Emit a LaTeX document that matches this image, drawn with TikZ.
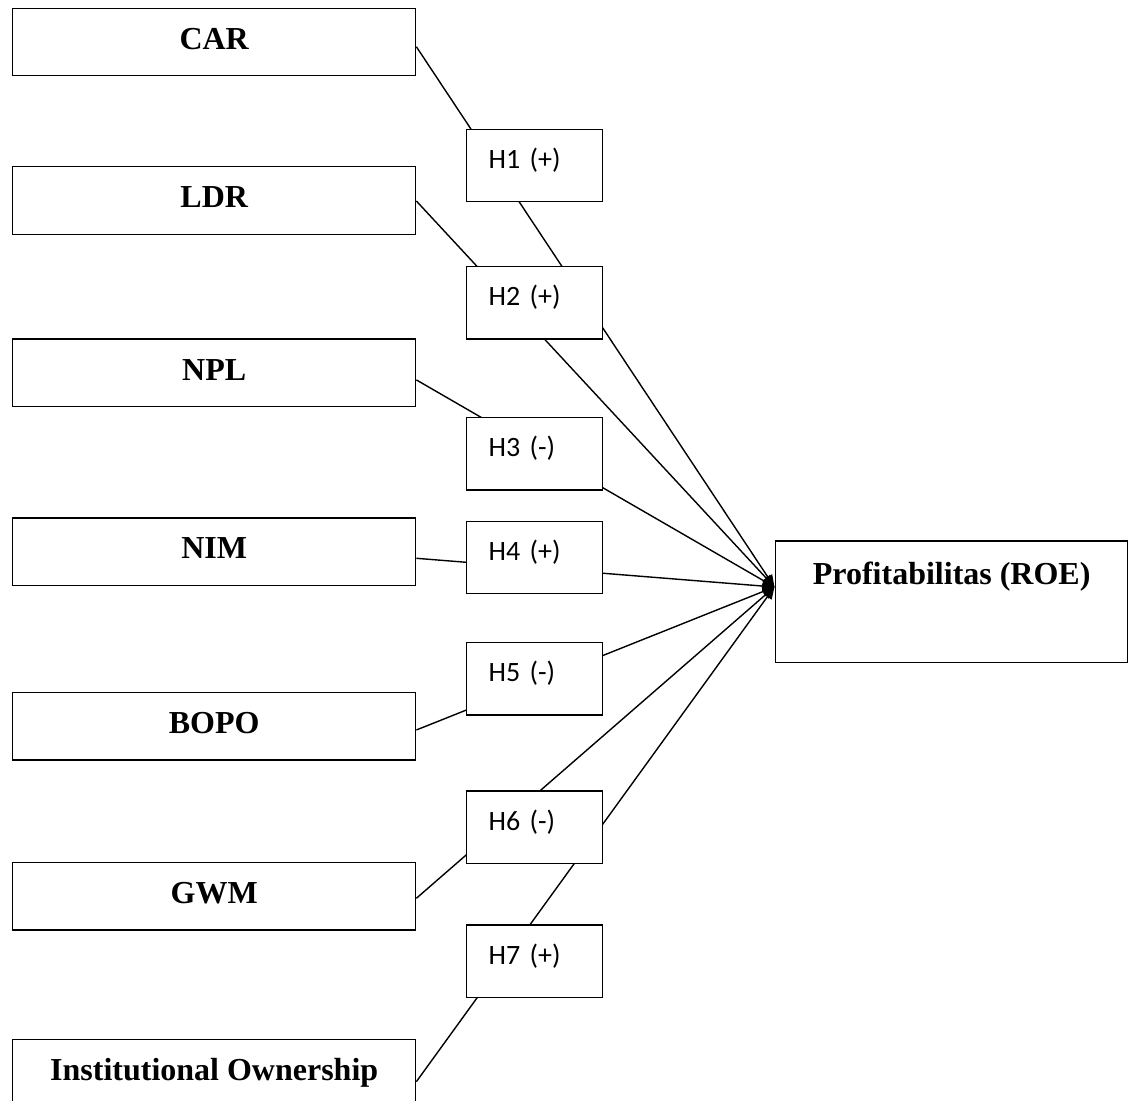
\documentclass[tikz,border=0pt]{standalone}
\usepackage{fontspec}
\setmainfont{Liberation Serif}
\newfontfamily\calibri{Carlito}
\usetikzlibrary{arrows.meta}
\begin{document}
\begin{tikzpicture}[x=0.5pt,y=-0.5pt,
  varbox/.style={draw,line width=0.65pt,minimum width=201.5pt,minimum height=33.75pt,inner sep=0pt,
     font=\fontsize{16}{19}\selectfont\bfseries,text height=10.6pt,text depth=3.3pt},
  hypbox/.style={draw,fill=white,line width=0.65pt,minimum height=36.2pt,inner xsep=11pt,inner ysep=0pt,
     text width=45.8pt,align=left,font=\calibri\fontsize{14}{16}\selectfont,text height=8.6pt,text depth=5.8pt},
  roebox/.style={draw,line width=0.65pt,minimum width=176pt,minimum height=60.85pt,inner sep=0pt,
     font=\fontsize{16}{19}\selectfont\bfseries,text height=10.6pt,text depth=27.4pt},
  link/.style={line width=0.7pt,-{Triangle[length=6pt,width=5pt]}}]
\useasboundingbox (0,0) rectangle (1131,1101);
\clip (0,0) rectangle (1131,1101);
% variable boxes
\node[varbox] (car)  at (214.2,42)    {CAR};
\node[varbox] (ldr)  at (214.2,200.5) {LDR};
\node[varbox] (npl)  at (214.2,372.9) {NPL};
\node[varbox] (nim)  at (214.2,551.7) {NIM};
\node[varbox] (bopo) at (214.2,726.2) {BOPO};
\node[varbox] (gwm)  at (214.2,896.3) {GWM};
\node[varbox] (inst) at (214.2,1073)  {Institutional Ownership};
% dependent
\node[roebox] (roe) at (951.7,601.8) {Profitabilitas (ROE)};
\coordinate (tip) at ([yshift=7.4pt,xshift=-0.3pt]roe.west);
% connectors
\draw[link] ([yshift=-2.35pt]car.east) -- (tip);
\draw[link] ([yshift=-0.25pt]ldr.east) -- (tip);
\draw[link] ([yshift=-3.5pt]npl.east) -- (tip);
\draw[link] ([yshift=-3.3pt]nim.east) -- (tip);
\draw[link] ([yshift=-1.9pt]bopo.east) -- (tip);
\draw[link] ([yshift=-1pt]gwm.east) -- (tip);
\draw[link] ([yshift=-4.35pt]inst.east) -- (tip);
% hypothesis boxes
\node[hypbox] (h1) at (534.5,165.5) {H1 (+)};
\node[hypbox] (h2) at (534.5,302.8) {H2 (+)};
\node[hypbox] (h3) at (534.5,453.7) {H3 (-)};
\node[hypbox] (h4) at (534.5,557.5) {H4 (+)};
\node[hypbox] (h5) at (534.5,678.8) {H5 (-)};
\node[hypbox] (h6) at (534.5,827.2) {H6 (-)};
\node[hypbox] (h7) at (534.5,961.2) {H7 (+)};
\end{tikzpicture}
\end{document}
